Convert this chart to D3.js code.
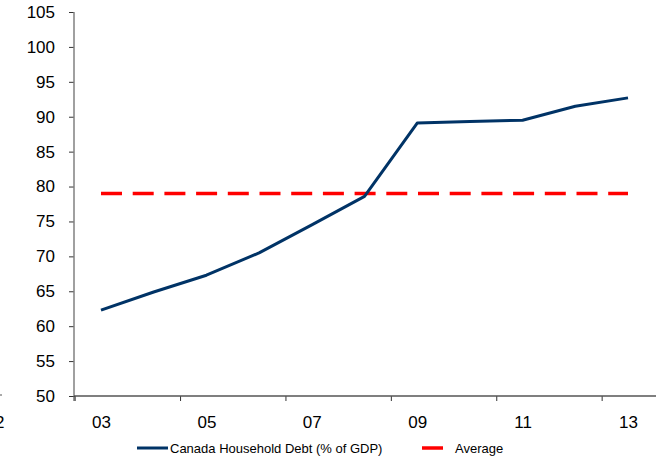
<!DOCTYPE html>
<html>
<head>
<meta charset="utf-8">
<script src="https://cdn.jsdelivr.net/npm/d3@7"></script>
<style>
	body { margin: 0; background: #fff; }
	svg { display: block; font-family: "Liberation Sans", Arial, sans-serif; }
	.tick text { fill: #000; }
</style>
</head>
<body>
<div class="chart"></div>
<script>
// chart data
var years = [2003, 2004, 2005, 2006, 2007, 2008, 2009, 2010, 2011, 2012, 2013];
var debt = [62.3, 64.9, 67.3, 70.5, 74.5, 78.6, 89.1, 89.3, 89.5, 91.5, 92.7];
var average = 79.0;
var yTicks = [50, 55, 60, 65, 70, 75, 80, 85, 90, 95, 100, 105];
var labelYears = [2003, 2005, 2007, 2009, 2011, 2013];
var xLabels = ['03', '05', '07', '09', '11', '13'];
var tickYears = [2002.5, 2004.5, 2006.5, 2008.5, 2010.5, 2012.5];
var seriesNames = ['Canada Household Debt (% of GDP)', 'Average'];

var width = 656,
    height = 459,
    axisX = 74,
    axisY = 396;

var navy = '#003366',
    red = '#ff0000';

var svg = d3.select('.chart').append('svg')
	.attr('width', width)
	.attr('height', height);

var x = d3.scaleLinear().domain([2003, 2013]).range([101, 628]);
var y = d3.scaleLinear().domain([50, 105]).range([axisY, 12]);

// y axis
var yAxis = svg.append('g')
	.attr('transform', 'translate(' + axisX + ',0)')
	.call(d3.axisLeft(y).tickValues(yTicks).tickSize(5).tickPadding(14));
yAxis.select('.domain').remove();
yAxis.selectAll('.tick line').attr('stroke', '#333');
yAxis.selectAll('.tick text').attr('font-size', 17);

// x axis: tick marks between the label years, labels on their own
var xTicks = svg.append('g')
	.attr('transform', 'translate(0,' + axisY + ')')
	.call(d3.axisBottom(x).tickValues(tickYears).tickSize(5).tickFormat(''));
xTicks.select('.domain').remove();
xTicks.selectAll('.tick line').attr('stroke', '#333');

var xText = svg.append('g')
	.attr('transform', 'translate(0,' + axisY + ')')
	.call(d3.axisBottom(x).tickValues(labelYears).tickSize(0).tickPadding(20)
		.tickFormat(function(d, i) { return xLabels[i]; }));
xText.select('.domain').remove();
xText.selectAll('.tick text').attr('font-size', 17);

// axis lines
svg.append('line')
	.attr('x1', axisX).attr('x2', axisX)
	.attr('y1', y(105)).attr('y2', axisY + 1)
	.attr('stroke', '#808080').attr('stroke-width', 1.5);
svg.append('line')
	.attr('x1', axisX).attr('x2', width)
	.attr('y1', axisY).attr('y2', axisY)
	.attr('stroke', '#555').attr('stroke-width', 1.5);
svg.append('line')
	.attr('x1', axisX).attr('x2', axisX)
	.attr('y1', axisY).attr('y2', axisY + 5)
	.attr('stroke', '#333');

// leftovers of a neighbouring chart at the left edge
svg.append('text')
	.attr('x', -5).attr('y', 428)
	.attr('font-size', 17)
	.text('2');
svg.append('line')
	.attr('x1', 0).attr('x2', 2)
	.attr('y1', 395).attr('y2', 395)
	.attr('stroke', '#555');

// average line
svg.append('line')
	.attr('x1', x(years[0])).attr('x2', x(years[years.length - 1]))
	.attr('y1', y(average)).attr('y2', y(average))
	.attr('stroke', red)
	.attr('stroke-width', 3.5)
	.attr('stroke-dasharray', '21,10.7');

// debt series
var line = d3.line()
	.x(function(d, i) { return x(years[i]); })
	.y(function(d) { return y(d); });

svg.append('path')
	.datum(debt)
	.attr('d', line)
	.attr('fill', 'none')
	.attr('stroke', navy)
	.attr('stroke-width', 3)
	.attr('stroke-linejoin', 'round');

// legend
var legend = svg.append('g').attr('font-size', 13);
legend.append('line')
	.attr('x1', 137).attr('x2', 168)
	.attr('y1', 448).attr('y2', 448)
	.attr('stroke', navy).attr('stroke-width', 3);
legend.append('text')
	.attr('x', 170).attr('y', 453)
	.text(seriesNames[0]);
legend.append('line')
	.attr('x1', 422).attr('x2', 443)
	.attr('y1', 448).attr('y2', 448)
	.attr('stroke', red).attr('stroke-width', 3.5);
legend.append('text')
	.attr('x', 455).attr('y', 453)
	.text(seriesNames[1]);
</script>
</body>
</html>
